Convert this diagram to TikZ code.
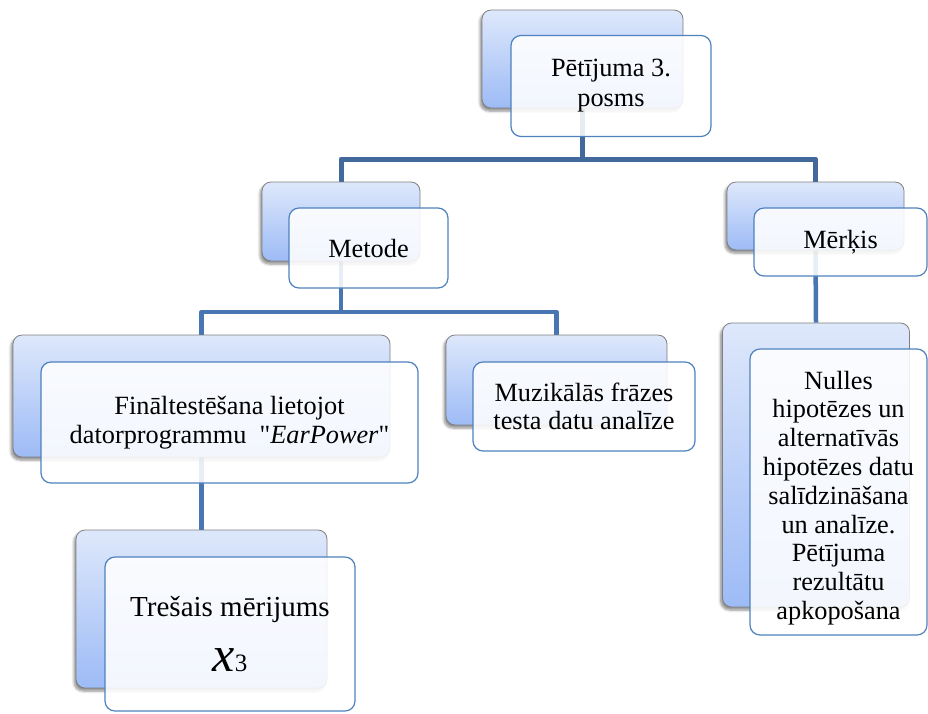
\documentclass[tikz,border=0pt]{standalone}
\usepackage{fontspec}
\setmainfont{Liberation Serif}[Ligatures=TeXOff]
\usetikzlibrary{shadows.blur,backgrounds}

\definecolor{backtop}{HTML}{DEE8FB}
\definecolor{backbot}{HTML}{9DBBF6}
\definecolor{backline}{HTML}{7F7F7F}
\definecolor{frontline}{HTML}{4F81BD}
\definecolor{connA}{HTML}{41699C}
\definecolor{connB}{HTML}{4876B2}

\tikzset{
  backbox/.style={rectangle, rounded corners=9pt, draw=backline, line width=0.8pt,
    top color=backtop, bottom color=backbot, inner sep=0pt,
    blur shadow={shadow xshift=-2pt, shadow yshift=-3pt, shadow opacity=45,
      shadow blur steps=6, shadow blur radius=2.5pt}},
  boxtext/.style={inner sep=0pt, align=center, font=\fontsize{26.3}{28.5}\selectfont},
  frontbox/.style={rectangle, rounded corners=10pt, draw=frontline, line width=1.2pt,
    fill=white, fill opacity=0.88, text opacity=1, boxtext},
  connone/.style={draw=connA, line width=5pt, line join=round},
  conntwo/.style={draw=connB, line width=4.5pt, line join=round},
}

\begin{document}
\begin{tikzpicture}[x=1pt, y=-1pt]
\useasboundingbox (0,0) rectangle (928,713);

% junction levels of the connectors
\coordinate (lvlone) at (0,159);
\coordinate (lvltwo) at (0,312);

% back layer boxes
\node[backbox, minimum width=201pt, minimum height=98pt]  (topback) at (582.5,59) {};
\node[backbox, minimum width=158pt, minimum height=79pt]  (metback) at (341,221.5) {};
\node[backbox, minimum width=177pt, minimum height=68pt]  (merback) at (815.5,216) {};
\node[backbox, minimum width=377pt, minimum height=122pt] (finback) at (201.5,396) {};
\node[backbox, minimum width=221pt, minimum height=90pt]  (muzback) at (556.5,380) {};
\node[backbox, minimum width=187pt, minimum height=284pt] (nulback) at (816,465) {};
\node[backbox, minimum width=251pt, minimum height=158pt] (treback) at (201.5,609) {};

% connectors, kept behind the boxes
\begin{pgfonlayer}{background}
\draw[connone] (topback.south) -- (topback.south |- lvlone);
\draw[connone] (metback.north) |- (merback.north |- lvlone) -- (merback.north);
\draw[conntwo] (metback.south) -- (metback.south |- lvltwo);
\draw[conntwo] (finback.north) |- (muzback.north |- lvltwo) -- (muzback.north);
\draw[conntwo] (finback.south) -- (treback.north);
\draw[conntwo] (merback.south) -- (nulback.north);
\end{pgfonlayer}

% front layer boxes with the texts
\node[frontbox, minimum width=200pt, minimum height=101pt,
      font=\fontsize{26.3}{30}\selectfont] (topfront) at (611,86)
  {Pētījuma 3.\\posms};
\node[frontbox, minimum width=159pt, minimum height=80pt] (metfront) at (368.5,248)
  {Metode};
\node[frontbox, minimum width=173pt, minimum height=68pt] (merfront) at (840.5,242)
  {Mērķis};
\node[frontbox, minimum width=377pt, minimum height=121pt] (finfront) at (229.5,422.5)
  {Fināltestēšana lietojot\\datorprogrammu\ \ "\textit{EarPower}"};
\node[frontbox, minimum width=222pt, minimum height=89pt] (muzfront) at (584,406.5)
  {Muzikālās frāzes\\testa datu analīze};
\node[frontbox, minimum width=177pt, minimum height=286pt] (nulfront) at (838.5,492) {};
\node[boxtext, font=\fontsize{26.3}{28.8}\selectfont, yshift=-6pt] (nultext)
  at (nulfront.center)
  {Nulles\\hipotēzes un\\alternatīvās\\hipotēzes datu\\salīdzināšana\\un analīze.\\Pētījuma\\rezultātu\\apkopošana};
\node[frontbox, minimum width=250pt, minimum height=154pt,
      font=\fontsize{29}{30}\selectfont] (trefront) at (230,634)
  {Trešais mērijums\\[25pt]{\fontsize{50}{50}\selectfont\itshape x}{\fontsize{25}{25}\selectfont 3}};
\end{tikzpicture}
\end{document}
